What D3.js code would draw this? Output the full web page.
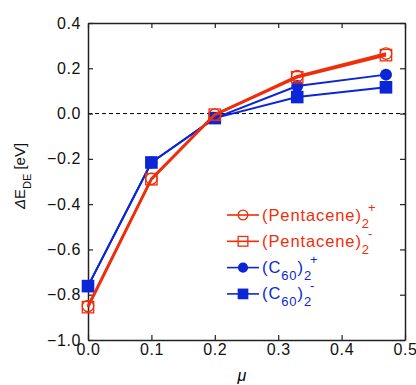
<!DOCTYPE html>
<html>
<head>
<meta charset="utf-8">
<script src="https://cdn.jsdelivr.net/npm/d3@7"></script>
<style>
  body { margin: 0; background: #fff; }
  text { font-family: "Liberation Sans", Arial, sans-serif; }
</style>
</head>
<body>
<svg class="chart"></svg>
<script>
const mu = [0.0, 0.1, 0.2, 0.33, 0.47];
const pentPlus = [-0.85, -0.288, -0.005, 0.165, 0.265];
const pentMinus = [-0.855, -0.29, -0.005, 0.16, 0.258];
const c60Plus = [-0.762, -0.216, -0.02, 0.122, 0.172];
const c60Minus = [-0.762, -0.216, -0.02, 0.073, 0.116];
const xTicks = [0.0, 0.1, 0.2, 0.3, 0.4, 0.5];
const yTicks = [-1.0, -0.8, -0.6, -0.4, -0.2, 0.0, 0.2, 0.4];

const red = '#ef2e0c';
const blue = '#0a26d6';

const series = [
  {values: pentPlus, color: red, marker: 'circle', filled: false, width: 2.6, name: 'Pentacene', sub: '', sign: '+'},
  {values: pentMinus, color: red, marker: 'square', filled: false, width: 2.6, name: 'Pentacene', sub: '', sign: '-'},
  {values: c60Plus, color: blue, marker: 'circle', filled: true, width: 2, name: 'C', sub: '60', sign: '+'},
  {values: c60Minus, color: blue, marker: 'square', filled: true, width: 2, name: 'C', sub: '60', sign: '-'}
];

const svgWidth = 416;
const svgHeight = 385;
const margin = {top: 23, right: 11, bottom: 45, left: 88};
const width = svgWidth - margin.left - margin.right;
const height = svgHeight - margin.top - margin.bottom;

const svg = d3.select('.chart')
  .attr('width', svgWidth)
  .attr('height', svgHeight);
const g = svg.append('g')
  .attr('transform', `translate(${margin.left}, ${margin.top})`);

const x = d3.scaleLinear().domain([0, 0.5]).range([0, width]);
const y = d3.scaleLinear().domain([-1.0, 0.4]).range([height, 0]);

// zero line
g.append('line')
  .attr('x1', 0).attr('x2', width)
  .attr('y1', y(0)).attr('y2', y(0))
  .attr('stroke', '#000')
  .attr('stroke-width', 1)
  .attr('stroke-dasharray', '4,3');

const fmt = d3.format('.1f');
const styleAxis = sel => {
  sel.select('.domain').attr('stroke', '#222').attr('stroke-width', 1.5);
  sel.selectAll('.tick line').attr('stroke', '#222').attr('stroke-width', 1.2);
  sel.selectAll('.tick text')
    .attr('font-size', 16)
    .attr('letter-spacing', 0.6)
    .attr('fill', '#111');
};

g.append('g')
  .attr('transform', `translate(0, ${height})`)
  .call(d3.axisBottom(x).tickValues(xTicks).tickFormat(fmt).tickSizeInner(-5).tickSizeOuter(0).tickPadding(4))
  .call(styleAxis);
g.append('g')
  .call(d3.axisTop(x).tickValues(xTicks).tickFormat('').tickSizeInner(-5).tickSizeOuter(0))
  .call(styleAxis);
g.append('g')
  .call(d3.axisLeft(y).tickValues(yTicks).tickFormat(d => d === 0 ? '0.0' : fmt(d)).tickSizeInner(-5).tickSizeOuter(0).tickPadding(7))
  .call(styleAxis);
g.append('g')
  .attr('transform', `translate(${width}, 0)`)
  .call(d3.axisRight(y).tickValues(yTicks).tickFormat('').tickSizeInner(-5).tickSizeOuter(0))
  .call(styleAxis);
g.selectAll('.tick text').attr('font-family', '"Liberation Sans", Arial, sans-serif');

const line = d3.line()
  .x((d, i) => x(mu[i]))
  .y(d => y(d));

const drawMarker = (sel, s, cx, cy, scale) => {
  const r = 6 * scale;
  if (s.marker === 'circle') {
    sel.append('circle')
      .attr('cx', cx).attr('cy', cy).attr('r', s.filled ? r : r * 0.95)
      .attr('fill', s.filled ? s.color : 'none')
      .attr('stroke', s.color)
      .attr('stroke-width', s.filled ? 0 : 1.3);
  } else {
    const h = s.filled ? r * 1.05 : r * 0.95;
    sel.append('rect')
      .attr('x', cx - h).attr('y', cy - h)
      .attr('width', 2 * h).attr('height', 2 * h)
      .attr('fill', s.filled ? s.color : 'none')
      .attr('stroke', s.color)
      .attr('stroke-width', s.filled ? 0 : 1.3);
  }
};

// draw in reverse so pentacene on top like the reference
series.slice().reverse().forEach(s => {
  g.append('path')
    .datum(s.values)
    .attr('fill', 'none')
    .attr('stroke', s.color)
    .attr('stroke-width', s.width)
    .attr('stroke-linejoin', 'round')
    .attr('d', line);
  s.values.forEach((v, i) => drawMarker(g, s, x(mu[i]), y(v), 1));
});

// legend
const legend = g.append('g').attr('transform', `translate(${227 - margin.left}, ${215 - margin.top})`);
series.forEach((s, i) => {
  const row = legend.append('g').attr('transform', `translate(0, ${i * 26.3})`);
  row.append('line')
    .attr('x1', 0).attr('x2', 32)
    .attr('y1', 0).attr('y2', 0)
    .attr('stroke', s.color)
    .attr('stroke-width', 1.6);
  drawMarker(row, s, 16, 0, 0.85);
  const t = row.append('text')
    .attr('x', 35).attr('y', 5.5)
    .attr('font-size', 16.5)
    .attr('letter-spacing', 0.9)
    .attr('fill', s.color);
  t.append('tspan').text('(' + s.name);
  if (s.sub) {
    t.append('tspan').attr('font-size', 13).attr('dy', 7).text(s.sub);
    t.append('tspan').attr('dy', -7).text(')');
  } else {
    t.append('tspan').text(')');
  }
  t.append('tspan').attr('font-size', 13).attr('dy', 7).text('2');
  t.append('tspan').attr('font-size', 13).attr('dx', -2).attr('dy', -16).text(s.sign);
});

// axis labels
svg.append('text')
  .attr('x', 242).attr('y', 381)
  .attr('text-anchor', 'middle')
  .attr('font-size', 16)
  .attr('font-style', 'italic')
  .text('μ');

const yl = svg.append('text')
  .attr('transform', `translate(25, 176) rotate(-90)`)
  .attr('text-anchor', 'middle')
  .attr('font-size', 15)
  .attr('fill', '#111');
yl.append('tspan').attr('font-style', 'italic').text('Δ');
yl.append('tspan').text('E');
yl.append('tspan').attr('font-size', 11).attr('dy', 6).text('DE');
yl.append('tspan').attr('dy', -6).text(' [eV]');
</script>
</body>
</html>
